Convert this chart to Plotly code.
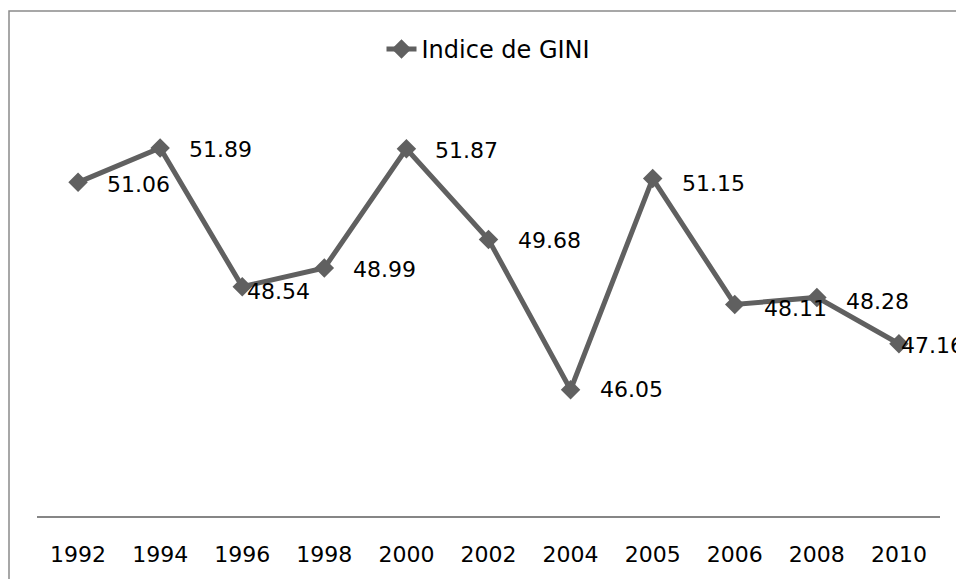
import plotly.graph_objects as go

# Gini index by year (categories on the x axis)
years = ['1992', '1994', '1996', '1998', '2000', '2002', '2004', '2005', '2006', '2008', '2010']
gini = [51.06, 51.89, 48.54, 48.99, 51.87, 49.68, 46.05, 51.15, 48.11, 48.28, 47.16]

# label placement tweaks (pixels), Excel nudged a couple of them onto the markers
label_dx = [27, 27, 3, 27, 27, 27, 27, 27, 27, 27, 0]
label_dy = [-2, -2, -5, -1, -2, -1, 0, -5, -4, -4, -2]

line_color = '#606060'
font_name = 'DejaVu Sans'
font_size = 22

fig = go.Figure()

fig.add_trace(go.Scatter(
    x=years, y=gini, mode='lines+markers', name='Indice de GINI',
    line=dict(color=line_color, width=5),
    marker=dict(symbol='diamond', size=15, color=line_color),
))

# data labels (category axis -> position by index)
for i, (val, dx, dy) in enumerate(zip(gini, label_dx, label_dy)):
    fig.add_annotation(
        x=i, y=val, text=f'{val:.2f}', showarrow=False,
        xanchor='left', yanchor='middle', xshift=dx, yshift=dy,
        font=dict(family=font_name, size=font_size, color='#000000'),
    )

# outer chart border (only top/left are visible in the frame)
fig.add_shape(
    type='rect', xref='paper', yref='paper',
    x0=(9 - 37) / 903, x1=1.3, y0=-0.5, y1=(520 - 10) / 418,
    line=dict(color='#8a8a8a', width=1.5), fillcolor='rgba(0,0,0,0)',
)

fig.update_layout(
    width=956, height=579,
    margin=dict(l=37, r=16, t=102, b=59),
    paper_bgcolor='white', plot_bgcolor='white',
    font=dict(family=font_name, size=font_size, color='#000000'),
    showlegend=True,
    legend=dict(
        orientation='h', x=0.5, xanchor='center', y=1.127, yanchor='middle',
        font=dict(family=font_name, size=24, color='#000000'),
        bgcolor='rgba(0,0,0,0)',
    ),
    xaxis=dict(
        type='category', showgrid=False, zeroline=False,
        showline=True, linecolor='#868686', linewidth=1.5,
        ticks='', ticklabelstandoff=18, range=[-0.5, len(years) - 0.5],
        tickfont=dict(family=font_name, size=font_size, color='#000000'),
    ),
    yaxis=dict(range=[43, 53], visible=False, showgrid=False, zeroline=False),
)

# drop the default body margin so the figure fills the window exactly
fig.write_html('out.html', config={'displayModeBar': False},
               post_script="document.body.style.margin='0';")
